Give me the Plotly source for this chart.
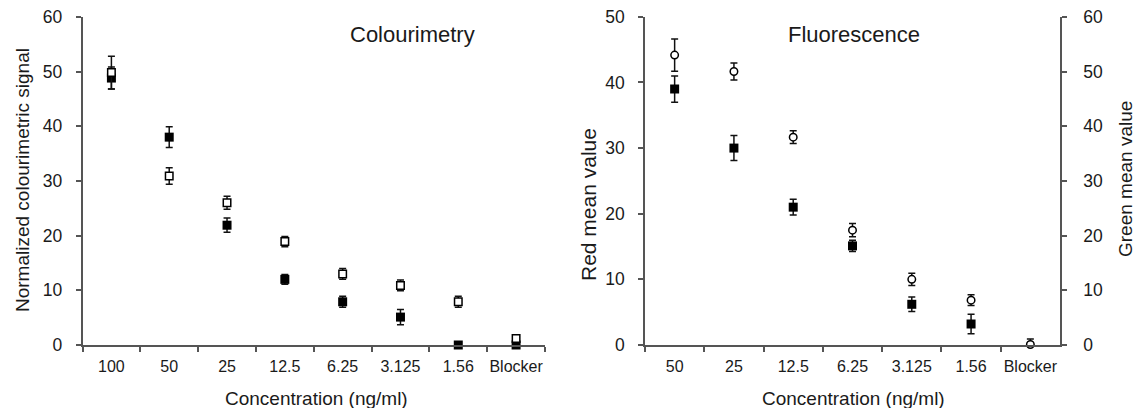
import plotly.graph_objects as go

W, H = 1136, 408

# ---------------- data ----------------
colour_cats = ["100", "50", "25", "12.5", "6.25", "3.125", "1.56", "Blocker"]
colour_filled = [48.8, 38.0, 21.9, 12.0, 7.9, 5.1, 0.0, 0.0]
colour_filled_err = [2.0, 1.9, 1.3, 0.9, 1.0, 1.4, 0.3, 0.2]
colour_open = [49.8, 30.9, 26.0, 18.9, 13.0, 10.9, 7.9, 1.2]
colour_open_err = [3.0, 1.5, 1.2, 0.95, 1.0, 1.0, 1.0, 0.3]

fluor_cats = ["50", "25", "12.5", "6.25", "3.125", "1.56", "Blocker"]
red_mean = [39.0, 30.0, 21.0, 15.1, 6.2, 3.2, None]
red_err = [2.0, 1.9, 1.2, 0.85, 1.1, 1.5, 0.0]
green_mean = [53.0, 50.0, 38.0, 21.0, 12.0, 8.2, 0.1]
green_err = [2.95, 1.55, 1.15, 1.2, 1.1, 1.0, 1.0]

# ---------------- style ----------------
FONT = "Liberation Sans, Arial, sans-serif"
TXT = "#1a1a1a"
AX = "#555555"


def px_x(p):
    return p / W


def px_y(p):
    return 1 - p / H


def err(arr):
    return dict(type="data", array=arr, visible=True, color="#111111",
                thickness=1.5, width=3.5)


filled_marker = dict(symbol="square", size=9, color="#000000",
                     line=dict(color="#000000", width=0))
open_sq_marker = dict(symbol="square", size=7.5, color="#ffffff",
                      line=dict(color="#000000", width=1.5))
open_circ_marker = dict(symbol="circle", size=7.5, color="#ffffff",
                        line=dict(color="#000000", width=1.5))

fig = go.Figure()

fig.add_trace(go.Scatter(x=colour_cats, y=colour_filled, mode="markers",
                         marker=filled_marker, error_y=err(colour_filled_err),
                         xaxis="x", yaxis="y", cliponaxis=False,
                         showlegend=False))
fig.add_trace(go.Scatter(x=colour_cats, y=colour_open, mode="markers",
                         marker=open_sq_marker, error_y=err(colour_open_err),
                         xaxis="x", yaxis="y", cliponaxis=False,
                         showlegend=False))
fig.add_trace(go.Scatter(x=fluor_cats, y=red_mean, mode="markers",
                         marker=filled_marker, error_y=err(red_err),
                         xaxis="x2", yaxis="y2", cliponaxis=False,
                         showlegend=False))
fig.add_trace(go.Scatter(x=fluor_cats, y=green_mean, mode="markers",
                         marker=open_circ_marker, error_y=err(green_err),
                         xaxis="x2", yaxis="y3", cliponaxis=False,
                         showlegend=False))

ydom = [px_y(345), px_y(16.8)]

common_x = dict(type="category", tickson="boundaries", ticks="outside",
                ticklen=5, tickwidth=1.5, tickcolor=AX, showline=True,
                linecolor=AX, linewidth=1.5, showgrid=False, zeroline=False,
                tickangle=0, automargin=False,
                tickfont=dict(size=16, color=TXT, family=FONT),
                ticklabelstandoff=6, fixedrange=True)
common_y = dict(ticks="outside", ticklen=5, tickwidth=1.5, tickcolor=AX,
                showline=True, linecolor=AX, linewidth=1.5, showgrid=False,
                zeroline=False, dtick=10, automargin=False,
                tickfont=dict(size=17.5, color=TXT, family=FONT),
                fixedrange=True)

fig.update_layout(
    width=W, height=H, autosize=False,
    margin=dict(l=0, r=0, t=0, b=0, pad=0),
    paper_bgcolor="white", plot_bgcolor="white",
    font=dict(family=FONT, color=TXT),
    xaxis=dict(domain=[px_x(82.5), px_x(545)], anchor="y",
               range=[-0.5, len(colour_cats) - 0.5], **common_x),
    yaxis=dict(domain=ydom, anchor="x", range=[0, 60],
               ticklabelstandoff=10, **common_y),
    xaxis2=dict(domain=[px_x(645), px_x(1060)], anchor="y2",
                range=[-0.5, len(fluor_cats) - 0.5], **common_x),
    yaxis2=dict(domain=ydom, anchor="x2", range=[0, 50],
                ticklabelstandoff=10, **common_y),
    yaxis3=dict(overlaying="y2", side="right", anchor="x2", range=[0, 60],
                ticklabelstandoff=13, **common_y),
)

ann = [
    dict(text="Colourimetry", x=px_x(412), y=px_y(34), size=22, angle=0),
    dict(text="Fluorescence", x=px_x(854), y=px_y(34), size=22, angle=0),
    dict(text="Concentration (ng/ml)", x=px_x(316), y=px_y(398), size=19, angle=0),
    dict(text="Concentration (ng/ml)", x=px_x(853), y=px_y(398), size=19, angle=0),
    dict(text="Normalized colourimetric signal", x=px_x(22), y=px_y(180), size=19, angle=-90),
    dict(text="Red mean value", x=px_x(588), y=px_y(205), size=21, angle=-90),
    dict(text="Green mean value", x=px_x(1125), y=px_y(179), size=19, angle=-90),
]
for a in ann:
    fig.add_annotation(text=a["text"], x=a["x"], y=a["y"], xref="paper",
                       yref="paper", xanchor="center", yanchor="middle",
                       showarrow=False, textangle=a["angle"],
                       font=dict(size=a["size"], color=TXT, family=FONT))

fig.write_html(
    "out.html",
    config={"responsive": False, "displayModeBar": False},
    post_script="document.body.style.margin='0';document.body.style.padding='0';"
                "document.body.style.overflow='hidden';",
)
